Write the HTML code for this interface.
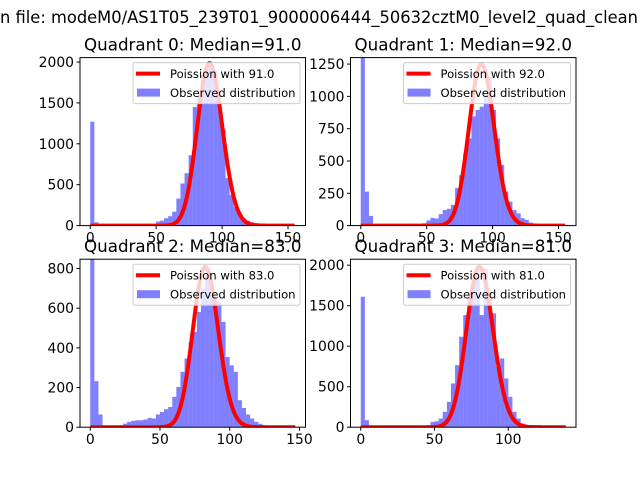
<!DOCTYPE html>
<html><head><meta charset="utf-8"><style>
body{margin:0;background:#fff;}
svg{display:block;font-family:"DejaVu Sans","Liberation Sans",sans-serif;}
</style></head><body>
<svg id="fig" width="640" height="480" viewBox="0 0 640 480">
<rect width="640" height="480" fill="#fff"/>
<text x="0" y="23" font-size="16.4" textLength="638" lengthAdjust="spacingAndGlyphs" fill="#000">n file: modeM0/AS1T05_239T01_9000006444_50632cztM0_level2_quad_clean</text>
</svg>
<script>
// Data per quadrant
const medians = [91.0, 92.0, 83.0, 81.0];
const dataMax = [155.5, 155.5, 147, 139];
const yMax = [2054, 1300, 847, 2074];
const curvePeak = [1986, 1250, 808, 1980];
const yTicks0 = [0, 500, 1000, 1500, 2000];
const yTicks1 = [0, 250, 500, 750, 1000, 1250];
const yTicks2 = [0, 200, 400, 600, 800];
const yTicks3 = [0, 500, 1000, 1500, 2000];
const xTicks0 = [0, 50, 100, 150];
const xTicks1 = [0, 50, 100, 150];
const xTicks2 = [0, 50, 100, 150];
const xTicks3 = [0, 50, 100];
const counts0 = [1270,40,0,0,0,0,0,0,0,0,0,0,0,0,0,0,50,60,90,115,170,330,515,640,860,1450,1575,1840,1950,1960,1900,1515,1170,580,375,230,150,90,60,40,30,20,10,0,0,0,0,0,0,0];
const counts1 = [1800,263,75,0,0,0,0,0,0,0,0,0,0,0,0,18,40,60,55,88,120,130,160,290,390,560,675,845,895,920,1025,1150,895,675,470,263,185,120,95,57,44,23,15,0,0,0,0,0,0,0];
const counts2 = [1100,232,64,0,0,0,7,10,18,27,32,35,35,39,47,44,64,77,91,102,153,203,279,346,430,480,581,699,766,750,649,632,531,354,312,279,136,97,64,44,27,17,10,0,0,0,0,0,0,0];
const counts3 = [1610,87,0,0,0,0,0,0,0,0,0,0,0,0,0,0,0,66,74,107,190,313,540,766,1117,1384,1631,1776,1858,1384,1960,1673,1405,746,849,601,375,190,107,45,25,0,0,0,0,0,0,0,0,0];

const allCounts = [counts0, counts1, counts2, counts3];
const allYTicks = [yTicks0, yTicks1, yTicks2, yTicks3];
const allXTicks = [xTicks0, xTicks1, xTicks2, xTicks3];
const boxes = [[80,57.6,225.5,168],[350.5,57.6,225.5,168],[80,259.2,225.5,168],[350.5,259.2,225.5,168]];
const NS = 'http://www.w3.org/2000/svg';
const fig = document.getElementById('fig');
function mk(tag, attrs, parent){const e=document.createElementNS(NS,tag);for(const k in attrs)e.setAttribute(k,attrs[k]);(parent||fig).appendChild(e);return e;}
function lnfact(k){let s=0;for(let i=2;i<=k;i++)s+=Math.log(i);return s;}

for (let q=0;q<4;q++){
  const [L,T,W,H]=boxes[q];
  const M=dataMax[q];
  const xmin=-0.05*M, xmax=1.05*M;
  const xs=v=>L+(v-xmin)/(xmax-xmin)*W;
  const ys=v=>T+H-v/yMax[q]*H;
  const g=mk('g',{});
  
  
  const clipId='clip'+q;
  const cp=mk('clipPath',{id:clipId},g);
  mk('rect',{x:L,y:T,width:W,height:H},cp);
  const plot=mk('g',{'clip-path':'url(#'+clipId+')'},g);
  const counts=allCounts[q];
  const bw=M/counts.length;
  counts.forEach((c,i)=>{
    if(c<=0) return;
    const x0=xs(i*bw), x1=xs((i+1)*bw);
    const r=mk('rect',{x:x0,y:ys(c),width:x1-x0,height:ys(0)-ys(c),fill:'#0000ff','fill-opacity':0.5},plot);
    
    
  });
  const mu=medians[q];
  const pk=Math.exp(Math.floor(mu)*Math.log(mu)-mu-lnfact(Math.floor(mu)));
  let d='';
  for(let k=0;k<=Math.floor(M);k++){
    const p=Math.exp(k*Math.log(mu)-mu-lnfact(k))/pk*curvePeak[q];
    d+=(k?'L':'M')+xs(k).toFixed(2)+','+ys(p).toFixed(2);
  }
  const pl=mk('path',{d:d,fill:'none',stroke:'#ff0000','stroke-width':4,'stroke-linejoin':'round'},plot);
  
  
  const fr=mk('rect',{x:L,y:T,width:W,height:H,fill:'none',stroke:'#000','stroke-width':1},g);
  
  
  allXTicks[q].forEach(v=>{
    const x=xs(v);
    mk('line',{x1:x,x2:x,y1:T+H,y2:T+H+3.5,stroke:'#000'},g);
    const t=mk('text',{x:x,y:T+H+17,'font-size':13.9,'text-anchor':'middle'},g);
    t.textContent=String(v);
    
    
  });
  allYTicks[q].forEach(v=>{
    const y=ys(v);
    mk('line',{x1:L-3.5,x2:L,y1:y,y2:y,stroke:'#000'},g);
    const t=mk('text',{x:L-6,y:y+5,'font-size':13.9,'text-anchor':'end'},g);
    t.textContent=String(v);
    
    
  });
  const tt=mk('text',{x:L+W/2,y:T-7,'font-size':16.7,'text-anchor':'middle'},g);
  tt.textContent='Quadrant '+q+': Median='+mu.toFixed(1);
  
  
  const lg=mk('g',{},g);
  
  
  const lx=L+W-172.5, ly=T+5;
  mk('rect',{x:lx,y:ly,width:167,height:41,rx:2,fill:'#fff','fill-opacity':0.8,stroke:'#ccc','stroke-width':1},lg);
  mk('line',{x1:lx+3,x2:lx+27,y1:ly+11,y2:ly+11,stroke:'#ff0000','stroke-width':4},lg);
  const t1=mk('text',{x:lx+37,y:ly+15.5,'font-size':11.6},lg);
  t1.textContent='Poission with '+mu.toFixed(1);
  
  
  mk('rect',{x:lx+4,y:ly+26,width:23,height:8,fill:'#0000ff','fill-opacity':0.5},lg);
  const t2=mk('text',{x:lx+37,y:ly+34.5,'font-size':11.6},lg);
  t2.textContent='Observed distribution';
  
  
}
</script>
</body></html>
